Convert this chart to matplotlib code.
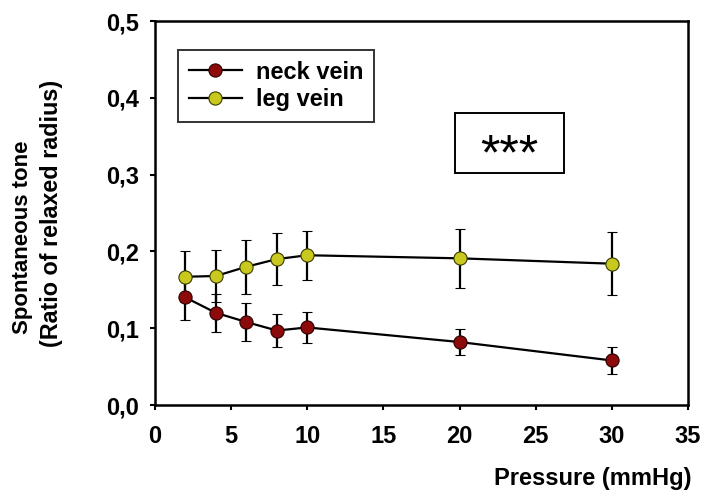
import numpy as np
import matplotlib
matplotlib.use("Agg")
import matplotlib.pyplot as plt
from matplotlib.ticker import FuncFormatter
from matplotlib.patches import Rectangle

plt.rcParams['font.family'] = ['Liberation Sans', 'DejaVu Sans']

# pressure steps (mmHg)
pressure = [2, 4, 6, 8, 10, 20, 30]

# spontaneous tone, mean and error
neck_mean = [0.140, 0.120, 0.108, 0.097, 0.101, 0.082, 0.058]
neck_err = [0.029, 0.025, 0.025, 0.021, 0.020, 0.017, 0.018]
leg_mean = [0.167, 0.168, 0.180, 0.190, 0.195, 0.191, 0.184]
leg_err = [0.033, 0.034, 0.035, 0.034, 0.032, 0.038, 0.041]

series_labels = ["neck vein", "leg vein"]
x_ticks = [0, 5, 10, 15, 20, 25, 30, 35]
y_ticks = [0.0, 0.1, 0.2, 0.3, 0.4, 0.5]

fig = plt.figure(figsize=(7.04, 4.92), dpi=100)
ax = fig.add_axes([0.2202, 0.1768, 0.7571, 0.7805])

style = dict(color='black', lw=1.6, marker='o', markersize=9.5,
             markeredgewidth=0.8, ecolor='black', elinewidth=1.6,
             capsize=3.8, capthick=1.6, zorder=3)
neck = ax.errorbar(pressure, neck_mean, yerr=neck_err, markerfacecolor='#8c0a0a',
                   markeredgecolor='#2a0000', **style)
leg = ax.errorbar(pressure, leg_mean, yerr=leg_err, markerfacecolor='#c8c81e',
                  markeredgecolor='#3a3a00', **style)

ax.set_xlim(0, 35)
ax.set_ylim(0, 0.5)
ax.set_xticks(x_ticks)
ax.set_yticks(y_ticks)
ax.yaxis.set_major_formatter(FuncFormatter(lambda v, p: f"{v:.1f}".replace('.', ',')))
ax.tick_params(direction='out', length=3.5, width=1.5, labelsize=17)
ax.tick_params(axis='x', pad=11)
ax.tick_params(axis='y', pad=8)
for lab in ax.get_xticklabels() + ax.get_yticklabels():
    lab.set_fontweight('bold')
for sp in ax.spines.values():
    sp.set_linewidth(1.8)

fig.text(23 / 704, 1 - 237 / 492, "Spontaneous tone", rotation=90, ha='center', va='center',
         fontsize=16, fontweight='bold')
fig.text(52 / 704, 1 - 213 / 492, "(Ratio of relaxed radius)", rotation=90, ha='center',
         va='center', fontsize=16.8, fontweight='bold')
fig.text(692 / 704, 1 - 478 / 492, "Pressure (mmHg)", ha='right', va='center',
         fontsize=17, fontweight='bold')

legend = ax.legend([neck[0], leg[0]], series_labels, loc='upper left',
                   bbox_to_anchor=(178 / 704, 1 - 50 / 492), bbox_transform=fig.transFigure,
                   fancybox=False, framealpha=1, edgecolor='#333333',
                   prop={'weight': 'bold', 'size': 17}, handlelength=2.25,
                   borderaxespad=0, borderpad=0.45, labelspacing=0.2, handletextpad=0.6)
legend.get_frame().set_linewidth(1.4)

ax.add_patch(Rectangle((0.563, 0.604), 0.2045, 0.156, transform=ax.transAxes,
                       fill=False, edgecolor='black', lw=1.4))
ax.text(0.665, 0.648, "***", transform=ax.transAxes,
        ha='center', va='center', fontsize=36)

fig.savefig("out.png", dpi=100)
